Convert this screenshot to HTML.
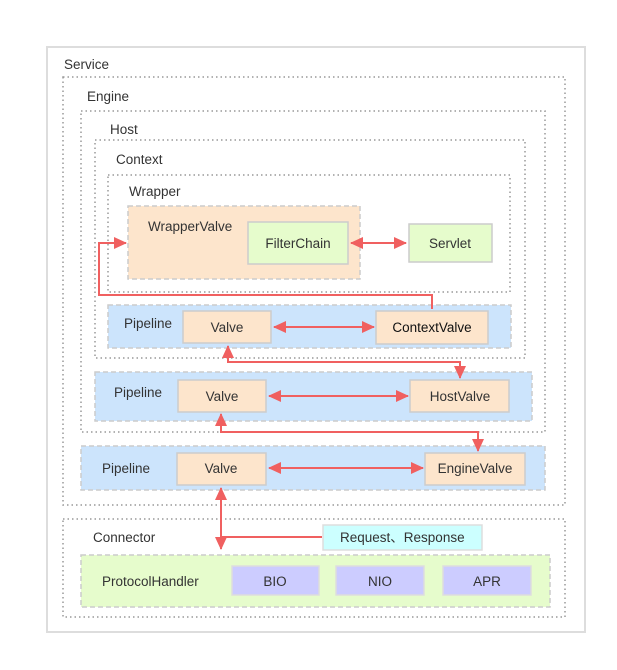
<!DOCTYPE html>
<html><head><meta charset="utf-8"><style>
body{margin:0;background:#fff}
text{font-family:"Liberation Sans","Noto Sans CJK SC",sans-serif;font-size:13.5px;fill:#333}
</style></head><body>
<svg width="617" height="665" xmlns="http://www.w3.org/2000/svg">
<defs>
<marker id="a" markerWidth="13" markerHeight="12" refX="12" refY="6" orient="auto-start-reverse" markerUnits="userSpaceOnUse"><path d="M0,0 L13,6 L0,12 z" fill="#f06060"/></marker>
</defs>
<rect x="47" y="47" width="538" height="585" fill="#fff" stroke="#ddd" stroke-width="2"/>
<g fill="none" stroke="#999" stroke-width="1.5" stroke-dasharray="1.5,3">
<rect x="63" y="77" width="502" height="428"/>
<rect x="81" y="111" width="464" height="321"/>
<rect x="95" y="140" width="430" height="218"/>
<rect x="108" y="175" width="402" height="117"/>
<rect x="63" y="519" width="502" height="98"/>
</g>
<g stroke="#ccc" stroke-width="1.5" stroke-dasharray="5,3">
<rect x="128" y="206" width="232" height="73" fill="#fde5cc"/>
<rect x="108" y="305" width="403" height="43" fill="#cce4fc"/>
<rect x="95" y="372" width="437" height="49" fill="#cce4fc"/>
<rect x="81" y="446" width="464" height="44" fill="#cce4fc"/>
<rect x="81" y="555" width="469" height="52" fill="#e6fccc"/>
</g>
<g stroke="#ccc" stroke-width="1.5">
<rect x="248" y="222" width="100" height="42" fill="#e6fccc"/>
<rect x="409" y="224" width="83" height="38" fill="#e6fccc"/>
<rect x="183" y="311" width="88" height="32" fill="#fde5cc"/>
<rect x="376" y="311" width="112" height="33" fill="#fde5cc"/>
<rect x="178" y="380" width="88" height="32" fill="#fde5cc"/>
<rect x="410" y="380" width="99" height="32" fill="#fde5cc"/>
<rect x="177" y="453" width="89" height="32" fill="#fde5cc"/>
<rect x="425" y="453" width="100" height="32" fill="#fde5cc"/>
<rect x="323" y="525" width="159" height="25" fill="#ccffff" stroke="#ddd"/>
<rect x="232" y="566" width="87" height="29" fill="#ccccff" stroke="#ddd"/>
<rect x="336" y="566" width="88" height="29" fill="#ccccff" stroke="#ddd"/>
<rect x="443" y="566" width="88" height="29" fill="#ccccff" stroke="#ddd"/>
</g>
<g fill="none" stroke="#f06060" stroke-width="2">
<path d="M351,243 H406" marker-start="url(#a)" marker-end="url(#a)"/>
<path d="M432,309 V295 H99 V243 H126" marker-end="url(#a)"/>
<path d="M274,327 H374" marker-start="url(#a)" marker-end="url(#a)"/>
<path d="M228,346 V362 H460 V378" marker-start="url(#a)" marker-end="url(#a)"/>
<path d="M269,396 H408" marker-start="url(#a)" marker-end="url(#a)"/>
<path d="M221,414 V432 H478 V451" marker-start="url(#a)" marker-end="url(#a)"/>
<path d="M269,468 H423" marker-start="url(#a)" marker-end="url(#a)"/>
<path d="M221,488 V549" marker-start="url(#a)" marker-end="url(#a)"/>
<path d="M221,537 H322"/>
</g>
<text x="64" y="69">Service</text>
<text x="87" y="101">Engine</text>
<text x="110" y="134">Host</text>
<text x="116" y="164">Context</text>
<text x="129" y="196">Wrapper</text>
<text x="148" y="231">WrapperValve</text>
<text x="298" y="248" text-anchor="middle">FilterChain</text>
<text x="450" y="248" text-anchor="middle">Servlet</text>
<text x="124" y="328">Pipeline</text>
<text x="227" y="332" text-anchor="middle">Valve</text>
<text x="432" y="332" text-anchor="middle" style="fill:#111">ContextValve</text>
<text x="114" y="397">Pipeline</text>
<text x="222" y="401" text-anchor="middle">Valve</text>
<text x="460" y="401" text-anchor="middle">HostValve</text>
<text x="102" y="473">Pipeline</text>
<text x="221" y="473" text-anchor="middle">Valve</text>
<text x="475" y="473" text-anchor="middle">EngineValve</text>
<text x="93" y="542">Connector</text>
<text x="340" y="542">Request<tspan>、</tspan>Response</text>
<text x="102" y="586">ProtocolHandler</text>
<text x="275" y="586" text-anchor="middle">BIO</text>
<text x="380" y="586" text-anchor="middle">NIO</text>
<text x="487" y="586" text-anchor="middle">APR</text>
</svg>
</body></html>
